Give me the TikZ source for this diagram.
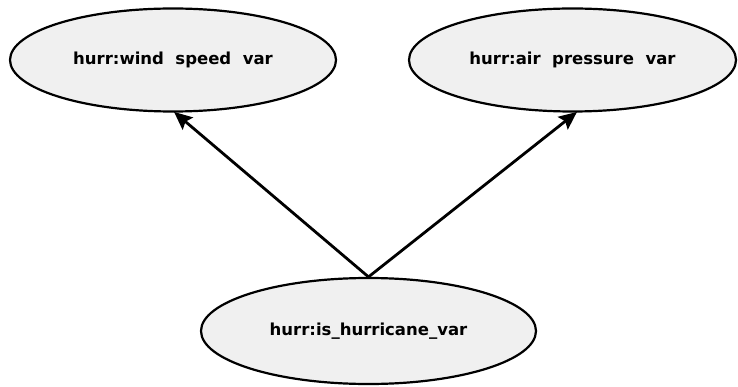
\documentclass[tikz,border=0pt]{standalone}
\usepackage{fontspec}
\setmainfont{DejaVu Sans}
\usetikzlibrary{shapes.geometric,arrows.meta}
\definecolor{nodefill}{HTML}{F0F0F0}
\tikzset{
  var/.style={ellipse, draw=black, line width=2.2pt, fill=nodefill, inner sep=0pt,
    font=\fontsize{16.5}{18}\selectfont\bfseries, text=black},
  arr/.style={line width=2.8pt, -{Stealth[length=18pt,width=16pt,inset=3pt]}, shorten >=-1pt}
}
\begin{document}
\begin{tikzpicture}[x=1pt,y=-1pt]
\useasboundingbox (0,0) rectangle (738,387);
\node[var, minimum width=326pt, minimum height=103pt] (L) at (173,60) {hurr:wind\ \ speed\ \ var};
\node[var, minimum width=327pt, minimum height=103pt] (R) at (572.5,60) {hurr:air\ \ pressure\ \ var};
\node[var, minimum width=335pt, minimum height=106pt] (B) at (368.5,331) {hurr:is\_hurricane\_var};
\draw[arr] (B.north) -- (L.-88);
\draw[arr] (B.north) -- (R.-86);
\end{tikzpicture}
\end{document}
